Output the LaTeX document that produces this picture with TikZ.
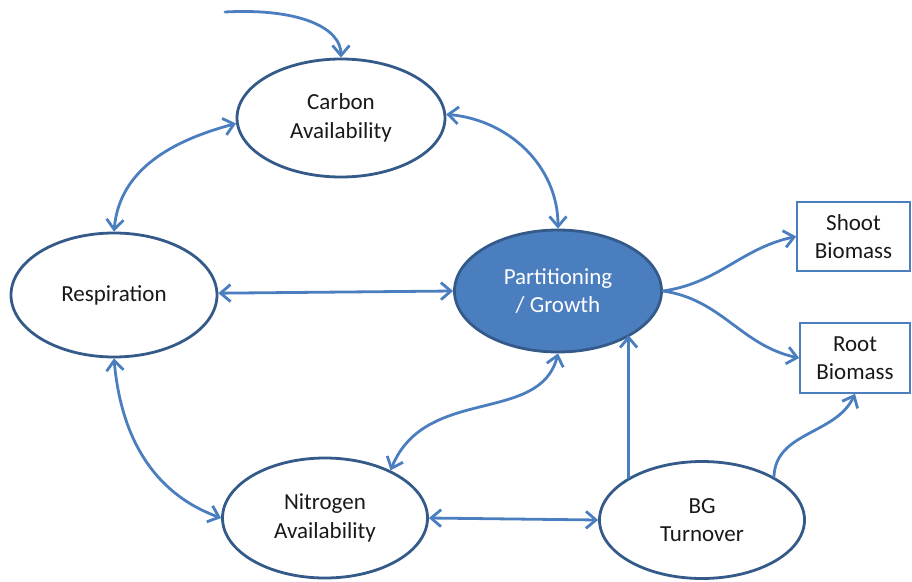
\documentclass[tikz,border=0pt]{standalone}
\usepackage{fontspec}
\setmainfont{Carlito}
\usetikzlibrary{shapes.geometric,arrows.meta}
\definecolor{lineblue}{RGB}{74,126,190}
\definecolor{edgeblue}{RGB}{52,90,138}
\definecolor{txt}{RGB}{25,25,25}
\begin{document}
\begin{tikzpicture}[x=1pt,y=-1pt,
  every node/.style={font=\fontsize{23}{28.5}\selectfont, text=txt, align=center, inner sep=0pt},
  oval/.style={ellipse, draw=edgeblue, line width=2.8pt, fill=white},
  filloval/.style={ellipse, draw=edgeblue, line width=2.8pt, fill=lineblue, text=white},
  outbox/.style={rectangle, draw=lineblue, line width=1.6pt, fill=white},
  conn/.style={draw=lineblue, line width=2.8pt, line cap=round},
  oneway/.style={conn, -{Straight Barb[length=10pt,width=17pt]}},
  twoway/.style={conn, {Straight Barb[length=10pt,width=17pt]}-{Straight Barb[length=10pt,width=17pt]}}
]
\useasboundingbox (0,0) rectangle (912,581);

\node[oval, minimum width=208pt, minimum height=118pt] (carbon) at (341,118) {Carbon\\Availability};
\node[oval, minimum width=206pt, minimum height=124pt] (resp) at (114,295) {Respiration};
\node[filloval, minimum width=207pt, minimum height=122pt] (part) at (558,291) {Partitioning\\/ Growth};
\node[oval, minimum width=205pt, minimum height=120pt] (nit) at (325,518) {Nitrogen\\Availability};
\node[oval, minimum width=205pt, minimum height=117pt] (bg) at (702,520) {BG\\Turnover};
\node[outbox, minimum width=113pt, minimum height=69pt] (shoot) at (853.5,236.5) {Shoot\\Biomass};
\node[outbox, minimum width=110pt, minimum height=70pt] (root) at (855,358) {Root\\Biomass};

\coordinate (src) at (225,12);

% incoming carbon
\draw[oneway] (src) .. controls (300,8) and (341,28) .. (carbon.north);
% carbon <-> respiration
\draw[twoway] (resp.north) to[out=85,in=195] (carbon.183);
% carbon <-> partitioning
\draw[twoway] (carbon.2) to[out=-5,in=90] (part.north);
% respiration <-> partitioning
\draw[twoway] (resp.1) -- (part.west);
% respiration <-> nitrogen
\draw[twoway] (resp.south) to[out=-85,in=160] (nit.west);
% nitrogen <-> partitioning
\draw[twoway] (nit.36) .. controls (425,385) and (540,425) .. (part.south);
% nitrogen <-> BG
\draw[twoway] (nit.east) -- (bg.west);
% BG -> partitioning
\draw[oneway] (bg.150) -- (bg.150 |- part.-31);
% partitioning -> shoot / root
\draw[oneway] (part.east) to[out=8,in=192] (shoot.west);
\draw[oneway] (part.east) to[out=-8,in=168] (root.west);
% BG -> root
\draw[oneway] (bg.31) to[out=88,in=-115] (root.south);
\end{tikzpicture}
\end{document}
